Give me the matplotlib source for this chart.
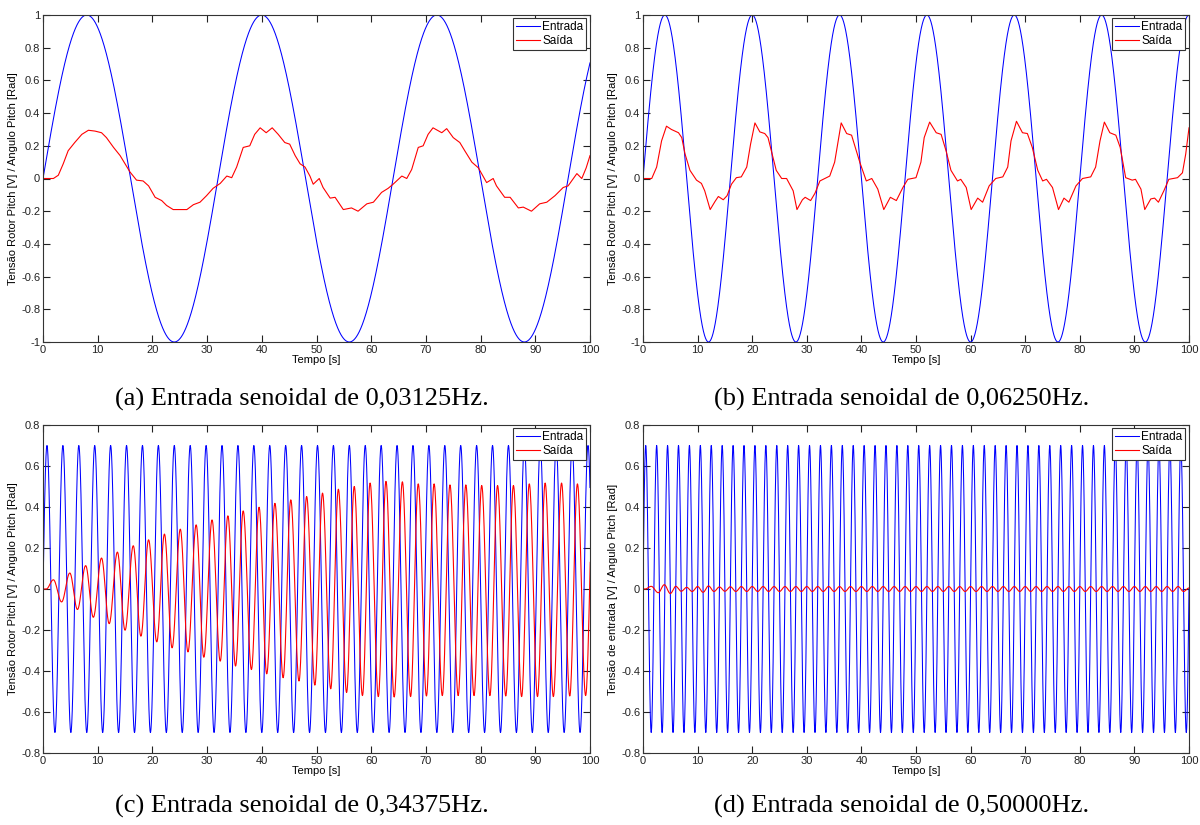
import numpy as np
import matplotlib
matplotlib.use("Agg")
import matplotlib.pyplot as plt

# ---------------- data ----------------
# input sine frequencies [Hz] and amplitudes
freqs = [0.03125, 0.06250, 0.34375, 0.50000]
amps = [1.0, 1.0, 0.7, 0.7]
captions = ["(a) Entrada senoidal de 0,03125Hz.",
            "(b) Entrada senoidal de 0,06250Hz.",
            "(c) Entrada senoidal de 0,34375Hz.",
            "(d) Entrada senoidal de 0,50000Hz."]
ylabels = ["Tensão Rotor Pitch [V] / Angulo Pitch [Rad]",
           "Tensão Rotor Pitch [V] / Angulo Pitch [Rad]",
           "Tensão Rotor Pitch [V] / Angulo Pitch [Rad]",
           "Tensão de entrada [V] / Angulo Pitch [Rad]"]
series_names = ["Entrada", "Saída"]

# output (pitch angle) for 0.03125 Hz
out_a_t = [0, 1.9, 2.8, 3.7, 4.6, 5.8, 7.1, 8.3, 9.5, 10.7,
           11.6, 12.9, 14.1, 15.0, 15.9, 17.1, 18.3, 19.3, 20.5, 21.7,
           22.6, 23.8, 25.0, 26.3, 27.5, 28.7, 29.9, 31.1, 32.4, 33.6,
           34.5, 35.4, 36.6, 37.8, 38.7, 39.7, 40.8, 41.9, 43.0, 44.2,
           45.1, 46.1, 47.0, 47.9, 48.8, 49.4, 50.5, 51.2, 52.5, 53.4,
           54.9, 56.4, 57.6, 59.2, 60.4, 61.9, 63.1, 64.0, 65.6, 66.5,
           67.4, 68.6, 69.5, 70.4, 71.3, 72.9, 73.8, 75.0, 76.2, 77.1,
           78.4, 79.6, 81.1, 82.3, 82.9, 84.4, 85.4, 86.9, 87.8, 89.3,
           90.8, 92.1, 93.6, 95.1, 96.0, 97.6, 98.5, 99.3, 100]
out_a_y = [0, 0, 0.02, 0.09, 0.17, 0.22, 0.27, 0.295, 0.29, 0.28,
           0.25, 0.19, 0.14, 0.09, 0.04, -0.01, -0.015, -0.045, -0.115, -0.135,
           -0.165, -0.19, -0.19, -0.19, -0.16, -0.145, -0.105, -0.06, -0.03, 0.015,
           0.005, 0.07, 0.19, 0.2, 0.27, 0.31, 0.28, 0.31, 0.27, 0.22,
           0.21, 0.14, 0.09, 0.07, 0.015, -0.035, 0.0, -0.055, -0.12, -0.115,
           -0.19, -0.18, -0.2, -0.155, -0.145, -0.085, -0.06, -0.035, 0.015, 0.0,
           0.055, 0.19, 0.2, 0.27, 0.31, 0.28, 0.305, 0.25, 0.22, 0.17,
           0.1, 0.065, -0.025, 0.0, -0.045, -0.115, -0.115, -0.18, -0.175, -0.2,
           -0.155, -0.145, -0.105, -0.055, -0.045, 0.03, 0.0, 0.065, 0.14]

# output for 0.0625 Hz
out_b_t = [0, 1.6, 2.5, 3.4, 4.3, 5.2, 6.5, 7.1, 7.7, 8.6,
           9.8, 10.7, 11.3, 12.3, 13.2, 13.8, 14.7, 15.4, 16.2, 17.1,
           18.0, 19.0, 19.7, 20.5, 21.4, 22.3, 22.9, 23.5, 24.4, 25.4,
           26.3, 27.5, 28.2, 29.2, 29.7, 30.7, 31.5, 32.4, 33.3, 34.2,
           35.1, 36.3, 37.3, 38.2, 39.7, 40.9, 41.9, 43.0, 44.1, 45.3,
           46.4, 47.6, 48.5, 50.0, 50.9, 51.5, 52.5, 53.7, 54.6, 55.5,
           56.4, 57.6, 58.2, 59.2, 60.1, 61.3, 62.2, 63.4, 64.6, 65.9,
           66.8, 67.4, 68.4, 69.5, 70.4, 71.3, 72.3, 73.2, 73.9, 75.0,
           76.1, 77.1, 78.0, 79.3, 80.5, 82.0, 82.9, 83.7, 84.5, 85.5,
           86.6, 87.4, 88.4, 89.6, 90.2, 91.2, 91.9, 93.0, 93.7, 94.4,
           95.4, 96.3, 97.9, 98.8, 99.4, 100]
out_b_y = [0, 0, 0.07, 0.23, 0.32, 0.30, 0.28, 0.25, 0.15, 0.05,
           -0.01, -0.03, -0.075, -0.19, -0.14, -0.11, -0.13, -0.105, -0.035, 0.005,
           0.01, 0.07, 0.21, 0.34, 0.285, 0.275, 0.25, 0.17, 0.05, 0.0,
           0.0, -0.075, -0.19, -0.13, -0.115, -0.135, -0.09, -0.015, 0.0, 0.015,
           0.1, 0.34, 0.275, 0.265, 0.1, -0.015, 0.0, -0.065, -0.19, -0.115,
           -0.135, -0.055, -0.005, 0.005, 0.1, 0.25, 0.345, 0.28, 0.27, 0.17,
           0.05, -0.015, -0.005, -0.055, -0.19, -0.12, -0.145, -0.045, 0.0, 0.01,
           0.07, 0.23, 0.35, 0.28, 0.275, 0.19, 0.05, -0.015, -0.005, -0.055,
           -0.19, -0.12, -0.145, -0.045, 0.0, 0.01, 0.07, 0.23, 0.345, 0.28,
           0.265, 0.19, 0.005, -0.01, -0.005, -0.065, -0.19, -0.125, -0.12, -0.145,
           -0.075, -0.005, 0.005, 0.035, 0.15, 0.31]

# output for 0.34375 Hz: successive extremes (alternating peak / trough)
out_c_t = [0.0, 0.6, 1.9, 3.4, 4.9, 6.3, 7.8, 9.2, 10.7, 12.1,
           13.6, 15.0, 16.5, 17.9, 19.3, 20.8, 22.2, 23.6, 25.1, 26.5,
           28.0, 29.4, 30.9, 32.4, 33.8, 35.2, 36.6, 38.1, 39.5, 40.9,
           42.4, 43.9, 45.3, 46.8, 48.2, 49.7, 51.1, 52.6, 54.0, 55.5,
           56.9, 58.4, 59.8, 61.3, 62.7, 64.2, 65.7, 67.2, 68.6, 70.1,
           71.5, 73.0, 74.4, 75.9, 77.3, 78.8, 80.2, 81.7, 83.1, 84.6,
           86.0, 87.5, 88.9, 90.4, 91.8, 93.3, 94.8, 96.3, 97.7, 99.2,
           100.65]
out_c_y = [0.0, 0.0, 0.045, -0.063, 0.078, -0.10, 0.114, -0.138, 0.151, -0.169,
           0.18, -0.201, 0.211, -0.23, 0.24, -0.258, 0.268, -0.287, 0.292, -0.307,
           0.313, -0.333, 0.337, -0.352, 0.357, -0.376, 0.381, -0.393, 0.399, -0.414,
           0.418, -0.433, 0.435, -0.449, 0.451, -0.469, 0.468, -0.487, 0.487, -0.505,
           0.50, -0.52, 0.517, -0.525, 0.525, -0.527, 0.523, -0.525, 0.513, -0.522,
           0.513, -0.52, 0.508, -0.52, 0.508, -0.52, 0.505, -0.52, 0.505, -0.522,
           0.505, -0.525, 0.513, -0.525, 0.517, -0.525, 0.517, -0.522, 0.513, -0.52,
           0.513]

# output for 0.5 Hz: successive extremes (alternating peak / trough)
out_d_t = [0.0, 0.4, 1.5, 2.8, 3.9, 5.0, 6.0, 7.0, 8.0, 9.0,
           10.0, 11.0, 12.0, 13.0, 14.0, 15.0, 16.0, 17.0, 18.0, 19.0,
           20.0, 21.0, 22.0, 23.0, 24.0, 25.0, 26.0, 27.0, 28.0, 29.0,
           30.0, 31.0, 32.0, 33.0, 34.0, 35.0, 36.0, 37.0, 38.0, 39.0,
           40.0, 41.0, 42.0, 43.0, 44.0, 45.0, 46.0, 47.0, 48.0, 49.0,
           50.0, 51.0, 52.0, 53.0, 54.0, 55.0, 56.0, 57.0, 58.0, 59.0,
           60.0, 61.0, 62.0, 63.0, 64.0, 65.0, 66.0, 67.0, 68.0, 69.0,
           70.0, 71.0, 72.0, 73.0, 74.0, 75.0, 76.0, 77.0, 78.0, 79.0,
           80.0, 81.0, 82.0, 83.0, 84.0, 85.0, 86.0, 87.0, 88.0, 89.0,
           90.0, 91.0, 92.0, 93.0, 94.0, 95.0, 96.0, 97.0, 98.0, 99.0,
           100.0]
out_d_y = [0.0, 0.0, 0.013, -0.018, 0.021, -0.022, 0.013, -0.011, 0.008, -0.012,
           0.012, -0.016, 0.015, -0.012, 0.010, -0.011, 0.011, -0.012, 0.012, -0.012,
           0.012, -0.012, 0.012, -0.012, 0.012, -0.012, 0.012, -0.012, 0.012, -0.012,
           0.012, -0.012, 0.012, -0.012, 0.012, -0.012, 0.012, -0.012, 0.012, -0.012,
           0.012, -0.012, 0.012, -0.012, 0.012, -0.012, 0.012, -0.012, 0.012, -0.012,
           0.012, -0.012, 0.012, -0.012, 0.012, -0.012, 0.012, -0.012, 0.012, -0.012,
           0.012, -0.012, 0.012, -0.012, 0.012, -0.012, 0.012, -0.012, 0.012, -0.012,
           0.012, -0.012, 0.012, -0.012, 0.012, -0.012, 0.012, -0.012, 0.012, -0.012,
           0.012, -0.012, 0.012, -0.012, 0.012, -0.012, 0.012, -0.012, 0.012, -0.012,
           0.012, -0.012, 0.012, -0.012, 0.012, -0.012, 0.012, -0.012, 0.012, -0.012,
           0.005]

yticks_top = [-1, -0.8, -0.6, -0.4, -0.2, 0, 0.2, 0.4, 0.6, 0.8, 1]
yticks_bottom = [-0.8, -0.6, -0.4, -0.2, 0, 0.2, 0.4, 0.6, 0.8]
xticks = [0, 10, 20, 30, 40, 50, 60, 70, 80, 90, 100]


def smooth_extremes(tx, vy, n=24):
    """Trace a smooth oscillation through alternating extremes."""
    ts, ys = [], []
    for i in range(len(tx) - 1):
        s = np.linspace(0, 1, n, endpoint=False)
        ts.append(tx[i] + (tx[i + 1] - tx[i]) * s)
        ys.append(vy[i] + (vy[i + 1] - vy[i]) * (1 - np.cos(np.pi * s)) / 2)
    ts.append([tx[-1]])
    ys.append([vy[-1]])
    return np.concatenate(ts), np.concatenate(ys)


plt.rcParams["font.family"] = ["Liberation Sans", "DejaVu Sans"]

fig = plt.figure(figsize=(12, 8.25), dpi=100)
W, H = 1200.0, 825.0
rects = [
    (43, 15, 590, 342),
    (643, 15, 1189, 342),
    (43, 425, 590, 753),
    (643, 425, 1189, 753),
]
outputs = [
    (np.array(out_a_t), np.array(out_a_y)),
    (np.array(out_b_t), np.array(out_b_y)),
    smooth_extremes(out_c_t, out_c_y),
    smooth_extremes(out_d_t, out_d_y),
]
caption_y = [399, 399, 806, 806]
caption_x = [302, 902, 302, 902]

t_in = np.linspace(0, 100, 10001)
for i in range(4):
    x0, y0, x1, y1 = rects[i]
    ax = fig.add_axes([x0 / W, 1 - y1 / H, (x1 - x0) / W, (y1 - y0) / H])
    ax.plot(t_in, amps[i] * np.sin(2 * np.pi * freqs[i] * t_in),
            color=(0, 0, 1), lw=0.75, label=series_names[0])
    ax.plot(outputs[i][0], outputs[i][1], color=(1, 0, 0), lw=0.8,
            label=series_names[1], solid_joinstyle="round")
    ax.set_xlim(0, 100)
    yt = yticks_top if i < 2 else yticks_bottom
    ax.set_ylim(yt[0], yt[-1])
    ax.set_xticks(xticks)
    ax.set_xticklabels(["%g" % v for v in xticks])
    ax.set_yticks(yt)
    ax.set_yticklabels(["%g" % v for v in yt])
    ax.tick_params(direction="in", length=5, width=0.8, top=True, right=True,
                   labelsize=8, colors="#222222", pad=2)
    for sp in ax.spines.values():
        sp.set_linewidth(0.8)
        sp.set_color("#333333")
    ax.set_xlabel("Tempo [s]", fontsize=8, labelpad=0)
    ax.set_ylabel(ylabels[i], fontsize=8, labelpad=2)
    leg = ax.legend(loc="upper right", bbox_to_anchor=(0.993, 0.991),
                    borderaxespad=0, fontsize=8.5, fancybox=False,
                    framealpha=1, edgecolor="#333333", handlelength=2.0,
                    handletextpad=0.2, labelspacing=0.15, borderpad=0.25)
    leg.get_frame().set_linewidth(0.8)
    fig.text(caption_x[i] / W, 1 - caption_y[i] / H, captions[i],
             family=["Liberation Serif", "DejaVu Serif"], fontsize=19,
             ha="center", va="center")

fig.savefig("out.png", dpi=100)
